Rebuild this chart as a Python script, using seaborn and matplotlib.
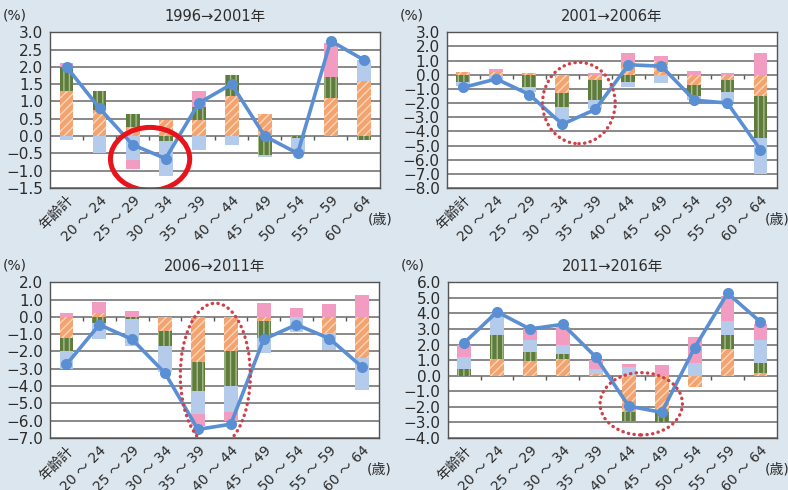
import numpy as np
import matplotlib
matplotlib.use("Agg")
import matplotlib.pyplot as plt
from matplotlib.patches import Ellipse
from matplotlib.ticker import FuncFormatter
import seaborn as sns

# Categories
ages = ["年齢計", "20 ～ 24", "25 ～ 29", "30 ～ 34", "35 ～ 39",
        "40 ～ 44", "45 ～ 49", "50 ～ 54", "55 ～ 59", "60 ～ 64"]
periods = ["1996→2001年", "2001→2006年", "2006→2011年", "2011→2016年"]

# 1996 -> 2001
p1_orange = [1.3, 0.75, 0.25, 0.45, 0.45, 1.15, 0.65, 0.0, 1.1, 1.6]
p1_green = [0.7, 0.55, 0.4, -0.15, 0.4, 0.6, -0.55, -0.05, 0.6, -0.1]
p1_blue = [-0.1, -0.5, -0.7, -1.0, -0.4, -0.25, -0.05, -0.4, 0.0, 0.6]
p1_pink = [0.1, 0.0, -0.25, 0.0, 0.45, 0.0, 0.0, 0.0, 1.0, 0.0]
p1_total = [2.0, 0.8, -0.25, -0.65, 0.95, 1.5, 0.0, -0.5, 2.75, 2.2]

# 2001 -> 2006
p2_orange = [0.2, 0.2, 0.1, -1.3, -0.4, 0.8, 1.0, -0.7, -0.4, -1.5]
p2_green = [-0.5, 0.0, -0.9, -1.0, -1.4, -0.55, 0.0, -0.8, -0.8, -3.0]
p2_blue = [-0.3, -0.4, -0.3, -0.9, -0.6, -0.3, -0.6, -0.3, -0.7, -2.5]
p2_pink = [0.0, 0.2, 0.0, 0.0, 0.15, 0.7, 0.3, 0.25, 0.15, 1.5]
p2_total = [-0.9, -0.3, -1.4, -3.5, -2.45, 0.7, 0.6, -1.8, -2.0, -5.3]

# 2006 -> 2011
p3_orange = [-1.2, 0.25, 0.0, -0.8, -2.6, -2.0, -0.25, 0.0, -0.95, -2.4]
p3_green = [-0.8, -0.35, -0.1, -0.9, -1.7, -2.0, -0.95, 0.0, 0.0, 0.0]
p3_blue = [-1.0, -0.9, -1.6, -1.5, -1.3, -1.5, -0.9, -0.9, -0.95, -1.8]
p3_pink = [0.2, 0.6, 0.35, 0.0, -0.7, -0.5, 0.8, 0.5, 0.75, 1.25]
p3_total = [-2.75, -0.45, -1.3, -3.25, -6.5, -6.2, -1.3, -0.45, -1.25, -2.9]

# 2011 -> 2016
p4_orange = [0.0, 1.1, 0.95, 1.1, 0.1, -2.3, -2.3, -0.75, 1.7, 0.2]
p4_green = [0.4, 1.5, 0.55, 0.3, 0.0, -0.6, -0.7, 0.0, 0.9, 0.6]
p4_blue = [0.8, 1.4, 0.8, 0.6, 0.35, 0.55, 0.0, 0.8, 0.9, 1.5]
p4_pink = [0.8, 0.0, 0.7, 1.1, 0.55, 0.2, 0.7, 1.7, 1.6, 1.0]
p4_total = [2.1, 4.1, 3.0, 3.3, 1.2, -1.95, -2.35, 1.8, 5.3, 3.45]

# y range, tick step, and highlight ellipse (x, y, w, h) per panel
ylims = [(-1.5, 3.0), (-8.0, 3.0), (-7.0, 2.0), (-4.0, 6.0)]
ysteps = [0.5, 1.0, 1.0, 1.0]
circles = [(2.53, -0.66, 2.4, 1.82), (3.5, -2.0, 2.2, 5.74),
           (4.53, -3.36, 2.13, 8.3), (5.38, -1.8, 2.5, 4.0)]

panels = [
    (p1_orange, p1_green, p1_blue, p1_pink, p1_total),
    (p2_orange, p2_green, p2_blue, p2_pink, p2_total),
    (p3_orange, p3_green, p3_blue, p3_pink, p3_total),
    (p4_orange, p4_green, p4_blue, p4_pink, p4_total),
]

sns.set_theme(style="white")
# wide latin digits first, CJK font for 年 / 歳 / 齢
plt.rcParams["font.family"] = ["DejaVu Sans", "Noto Sans CJK JP"]
plt.rcParams["hatch.linewidth"] = 1.0

bg = "#dce6ee"
txt = "#2b2b2b"
fig = plt.figure(figsize=(7.88, 4.90), dpi=100, facecolor=bg)

# axes boxes in figure fraction
boxes = [(0.0635, 0.6163, 0.419, 0.318), (0.567, 0.6163, 0.419, 0.318),
         (0.0635, 0.106, 0.417, 0.318), (0.568, 0.106, 0.418, 0.318)]

styles = [
    dict(color="#f2a36e", hatch="////", edgecolor="#fbd6bd"),
    dict(color="#5e7c3c", hatch="|||", edgecolor="#a9bd8f"),
    dict(color="#b5cbec", hatch=None, edgecolor="#b5cbec"),
    dict(color="#f29cc2", hatch=None, edgecolor="#f29cc2"),
]

x = np.arange(len(ages))
fmt = FuncFormatter(lambda v, _: f"{round(v, 1) + 0.0:.1f}".replace("-", "−"))

for k, (data, box) in enumerate(zip(panels, boxes)):
    ax = fig.add_axes(box)
    ax.set_facecolor("white")
    comps, total = data[:4], data[4]

    # stacked bars: positives upward, negatives downward
    pos_bottom = np.zeros(len(ages))
    neg_bottom = np.zeros(len(ages))
    for vals, st in zip(comps, styles):
        vals = np.array(vals)
        bottom = np.where(vals >= 0, pos_bottom, neg_bottom)
        ax.bar(x, vals, bottom=bottom, width=0.42, color=st["color"],
               hatch=st["hatch"], edgecolor=st["edgecolor"], linewidth=0,
               zorder=2)
        pos_bottom += np.clip(vals, 0, None)
        neg_bottom += np.clip(vals, None, 0)

    # total change line
    sns.lineplot(x=x, y=total, ax=ax, color="#5b8fd3", linewidth=2.6,
                 marker="o", markersize=8, markeredgewidth=0, zorder=4)

    # small axis ticks on the zero line
    ymin, ymax = ylims[k]
    tick_len = (ymax - ymin) * 0.025
    ax.vlines(x[:-1] + 0.5, 0, -tick_len, color="#555555", lw=1.0, zorder=3)

    # highlight ellipse
    cx, cy, cw, ch = circles[k]
    if k == 0:
        ell = Ellipse((cx, cy), cw, ch, fill=False, edgecolor="#e8141c",
                      lw=3.6, zorder=5)
    else:
        ell = Ellipse((cx, cy), cw, ch, fill=False, edgecolor="#d0404a",
                      lw=2.4, linestyle=(0, (0.1, 1.6)), capstyle="round",
                      zorder=5)
    ax.add_patch(ell)

    # Y axis
    ax.set_ylim(ymin, ymax)
    ax.set_yticks(np.arange(ymin, ymax + ysteps[k] / 2, ysteps[k]))
    ax.yaxis.set_major_formatter(fmt)
    ax.yaxis.grid(True, color="#6a6a6a", lw=1.1)
    ax.set_axisbelow(True)
    ax.tick_params(axis="y", length=0, pad=5, labelsize=11,
                   labelcolor=txt)

    # X axis
    ax.set_xlim(-0.5, len(ages) - 0.5)
    ax.set_xticks(x)
    ax.set_xticklabels(ages, rotation=45, ha="right", rotation_mode="anchor")
    ax.tick_params(axis="x", length=0, pad=4, labelsize=10,
                   labelcolor=txt)

    for sp in ax.spines.values():
        sp.set_color("#555555")
        sp.set_linewidth(1.0)

    ax.set_title(periods[k], fontsize=10.5, color=txt, pad=8)
    ax.text(-0.07, 1.06, "(%)", transform=ax.transAxes, fontsize=10,
            color=txt, ha="right", va="bottom")
    ax.text(1.0, -0.2, "(歳)", transform=ax.transAxes, fontsize=10,
            color=txt, ha="center", va="center")

fig.savefig("out.png", dpi=100, facecolor=bg)
